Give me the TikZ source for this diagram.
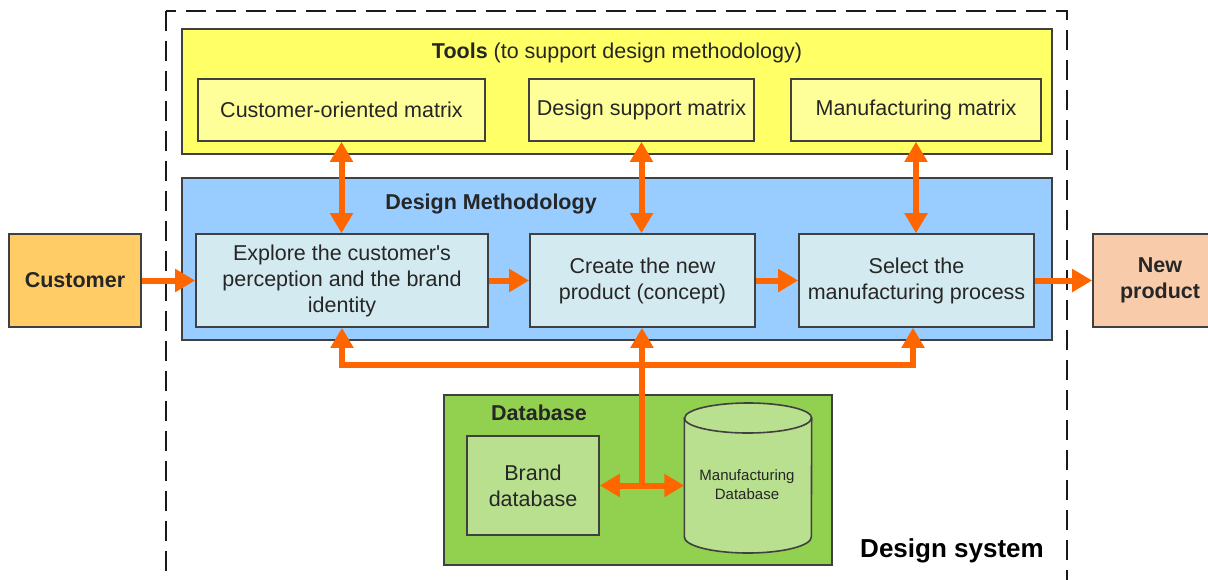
\documentclass[tikz,border=0pt]{standalone}
\usepackage{fontspec}
\setmainfont{Liberation Sans}[Ligatures=TeXOff]
\usetikzlibrary{arrows.meta}
\definecolor{arr}{HTML}{FF6600}
\definecolor{bord}{HTML}{404040}
\definecolor{yel}{HTML}{FFFF66}
\definecolor{yelL}{HTML}{FFFF99}
\definecolor{blu}{HTML}{99CCFF}
\definecolor{bluL}{HTML}{D3EAF0}
\definecolor{grn}{HTML}{92D050}
\definecolor{grnL}{HTML}{B9E08F}
\definecolor{cust}{HTML}{FFCC66}
\definecolor{newp}{HTML}{F8CBAA}
\begin{document}
\begin{tikzpicture}[x=1pt,y=-1pt,
  box/.style={draw=bord, line width=1.6pt, inner sep=0pt, align=center, font=\fontsize{21.5}{26}\selectfont, text=black!85},
  link/.style={draw=arr, line width=6pt, -{Triangle[width=22pt,length=20pt]}},
  dlink/.style={draw=arr, line width=6pt, line join=miter, {Triangle[width=22pt,length=20pt]}-{Triangle[width=22pt,length=20pt]}},
  bus/.style={draw=arr, line width=6pt, line join=miter},
  title/.style={font=\fontsize{21.5}{26}\selectfont, text=black!85, inner sep=0pt}
]
\clip (0,0) rectangle (1208,579);
\fill[white] (0,0) rectangle (1208,579);
% design system
\draw[black!90, line width=2.6pt, dash pattern=on 20pt off 10pt] (166,11) rectangle (1067,600);
\node[font=\fontsize{26}{30}\selectfont\bfseries, inner sep=0pt] (ds) at (952,551) {Design system};
% tools
\node[box, fill=yel, minimum width=870pt, minimum height=125pt] (tools) at (617,91.5) {};
\node[title] (tt) at (617,53) {\textbf{Tools} (to support design methodology)};
\node[box, fill=yelL, minimum width=287pt, minimum height=62pt] (com) at (341.5,110) {Customer-oriented matrix};
\node[box, fill=yelL, minimum width=225pt, minimum height=62pt] (dsm) at (641.5,110) {Design support matrix};
\node[box, fill=yelL, minimum width=250pt, minimum height=62pt] (mm) at (916,110) {Manufacturing matrix};
% design methodology
\node[box, fill=blu, minimum width=870pt, minimum height=162pt] (dm) at (617,259) {};
\node[title, font=\fontsize{21.5}{26}\selectfont\bfseries] (dmt) at (491,204) {Design Methodology};
\node[box, fill=bluL, minimum width=292pt, minimum height=93pt] (exp) at (342,280.5) {Explore the customer's\\perception and the brand\\identity};
\node[box, fill=bluL, minimum width=225pt, minimum height=93pt] (cre) at (642.5,280.5) {Create the new\\product (concept)};
\node[box, fill=bluL, minimum width=235pt, minimum height=93pt] (sel) at (916.5,280.5) {Select the\\manufacturing process};
% outside
\node[box, fill=cust, minimum width=132pt, minimum height=93pt, font=\fontsize{21.5}{26}\selectfont\bfseries] (cus) at (75,280.5) {Customer};
\node[box, fill=newp, minimum width=135pt, minimum height=93pt] (np) at (1160.5,280.5) {};
\node[title, font=\fontsize{21.5}{26}\selectfont\bfseries, align=center] (npt) at (1160,280.5) {New\\product};
% database
\node[box, fill=grn, minimum width=388pt, minimum height=170pt] (db) at (638,480) {};
\node[title, font=\fontsize{21.5}{26}\selectfont\bfseries] (dbt) at (539,413) {Database};
\node[box, fill=grnL, minimum width=132pt, minimum height=99pt] (brand) at (533,485.5) {Brand\\database};
\node[inner sep=0pt, minimum width=127pt, minimum height=150pt] (mdb) at (748,478) {};
\draw[draw=bord, line width=1.6pt, fill=grnL]
  (mdb.west |- 0,418) -- (mdb.west |- 0,537) arc[start angle=180, end angle=360, x radius=63.5pt, y radius=16pt]
  -- (mdb.east |- 0,418) arc[start angle=0, end angle=180, x radius=63.5pt, y radius=15pt] -- cycle;
\draw[draw=bord, line width=1.6pt] (mdb.west |- 0,418) arc[start angle=180, end angle=360, x radius=63.5pt, y radius=15pt];
\node[align=center, font=\fontsize{15}{19}\selectfont, text=black!85, inner sep=0pt] (mdbt) at (747,484.5) {Manufacturing\\Database};
% flow arrows
\draw[link] (cus.east) -- (exp.west);
\draw[link] (exp.east) -- (cre.west);
\draw[link] (cre.east) -- (sel.west);
\draw[link] (sel.east) -- (np.west);
% tools <-> methodology
\draw[dlink] (com.south) -- (com.south |- exp.north);
\draw[dlink] (dsm.south) -- (dsm.south |- cre.north);
\draw[dlink] (mm.south) -- (mm.south |- sel.north);
% bus
\coordinate (b1) at (342,365);
\coordinate (b2) at (642,365);
\coordinate (b3) at (913,365);
\coordinate (j) at (642,485.5);
\draw[dlink] (b1 |- exp.south) -- (b1) -- (b3) -- (b3 |- sel.south);
\draw[bus] (b2) -- (j);
\draw[link] (b2) -- (b2 |- cre.south);
\draw[dlink] (brand.east) -- (brand.east -| mdb.west);
\end{tikzpicture}
\end{document}
